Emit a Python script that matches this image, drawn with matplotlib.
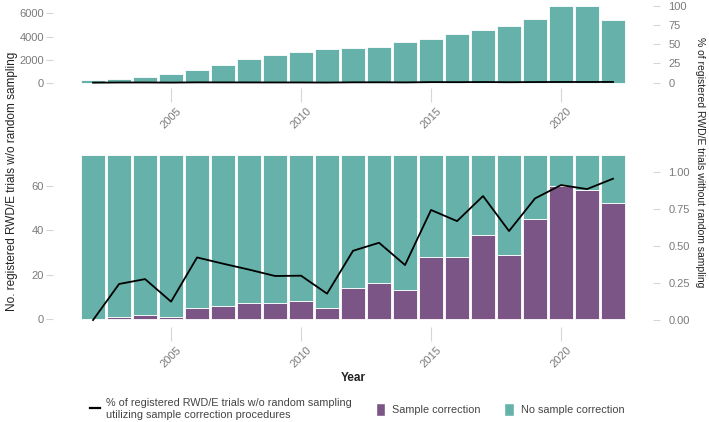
import matplotlib
matplotlib.use("Agg")
import matplotlib.pyplot as plt
from matplotlib.lines import Line2D
from matplotlib.patches import Patch

plt.rcParams["font.family"] = ["Liberation Sans", "DejaVu Sans"]

TEAL = "#66b2aa"
PURPLE = "#7b5586"
TICK_GRAY = "#d6d6d6"
LABEL_GRAY = "#7a7a7a"

years = list(range(2002, 2023))

# top panel: registered trials w/o random sampling (counts)
trials_no_random = [250, 400, 570, 830, 1170, 1600, 2090, 2400, 2710, 2910, 3000,
                    3090, 3540, 3770, 4230, 4570, 4890, 5510, 6660, 6630, 5460]

# bottom panel: stacked bars
sample_correction = [0, 1, 2, 1, 5, 6, 7, 7, 8, 5, 14, 16, 13, 28, 28, 38, 29, 45, 60, 58, 52]
no_sample_correction = [73.8, 72.8, 71.8, 72.8, 68.8, 67.8, 66.8, 66.8, 65.8, 68.8, 59.8,
                        57.8, 60.8, 45.8, 45.8, 35.8, 44.8, 28.8, 13.8, 15.8, 21.8]

# share of trials utilizing sample correction procedures
share_corrected = [0.0, 0.243, 0.276, 0.124, 0.422, 0.38, 0.34, 0.297, 0.299, 0.178, 0.467,
                   0.521, 0.371, 0.742, 0.667, 0.836, 0.60, 0.82, 0.91, 0.883, 0.953]

xticks = [2005, 2010, 2015, 2020]

fig = plt.figure(figsize=(7.09, 4.22), dpi=100)
ax_top = fig.add_axes([0.0748, 0.7915, 0.8463, 0.2038])
ax_bot = fig.add_axes([0.0748, 0.2251, 0.8463, 0.4242])


def style(ax, right=False):
    for s in ax.spines.values():
        s.set_visible(False)
    ax.tick_params(axis="y", length=5, width=0.8, color=TICK_GRAY,
                   labelcolor=LABEL_GRAY, labelsize=8, pad=6 if right else 1.5)
    ax.tick_params(axis="x", length=10, width=0.8, color=TICK_GRAY,
                   labelcolor=LABEL_GRAY, labelsize=8, pad=3)


# top panel
ax_top.bar(years, trials_no_random, width=0.9, color=TEAL, edgecolor="white", linewidth=0.6)
ax_top.set_xlim(2000.46, 2023.54)
ax_top.set_ylim(-403, 6969)
ax_top.set_yticks([0, 2000, 4000, 6000])
ax_top.set_xticks(xticks)
ax_top.set_xticklabels([str(y) for y in xticks], rotation=45, ha="center")
style(ax_top)
ax_top_r = ax_top.twinx()
ax_top_r.plot(years, share_corrected, color="black", linewidth=1.3)
ax_top_r.set_ylim(-6.9, 104.8)
ax_top_r.set_yticks([0, 25, 50, 75, 100])
style(ax_top_r, right=True)

# bottom panel
ax_bot.bar(years, sample_correction, width=0.9, color=PURPLE, edgecolor="white", linewidth=0.6)
ax_bot.bar(years, no_sample_correction, bottom=sample_correction, width=0.9, color=TEAL,
           edgecolor="white", linewidth=0.6)
ax_bot.set_xlim(2000.46, 2023.54)
ax_bot.set_ylim(-3.6, 76.95)
ax_bot.set_yticks([0, 20, 40, 60])
ax_bot.set_xticks(xticks)
ax_bot.set_xticklabels([str(y) for y in xticks], rotation=45, ha="center")
style(ax_bot)
ax_bot_r = ax_bot.twinx()
ax_bot_r.plot(years, share_corrected, color="black", linewidth=1.3)
ax_bot_r.set_ylim(-0.047, 1.16)
ax_bot_r.set_yticks([0, 0.25, 0.5, 0.75, 1.0])
ax_bot_r.set_yticklabels(["0.00", "0.25", "0.50", "0.75", "1.00"])
style(ax_bot_r, right=True)

fig.text(353 / 709, 1 - 378 / 422, "Year", ha="center", va="center",
         fontsize=8.5, fontweight="bold", color="#222222")
fig.text(12 / 709, 1 - 181 / 422, "No. registered RWD/E trials w/o random sampling",
         rotation=90, ha="center", va="center", fontsize=8.5, color="#222222")
fig.text(700 / 709, 1 - 162 / 422, "% of registered RWD/E trials without random sampling",
         rotation=-90, ha="center", va="center", fontsize=7.5, color="#222222")

handles = [Line2D([], [], color="black", linewidth=1.6),
           Patch(facecolor=PURPLE, edgecolor="white"),
           Patch(facecolor=TEAL, edgecolor="white")]
labels = ["% of registered RWD/E trials w/o random sampling\nutilizing sample correction procedures",
          "Sample correction", "No sample correction"]
fig.legend(handles, labels, loc="center", bbox_to_anchor=(357 / 709, 1 - 409 / 422), ncol=3,
           frameon=False, fontsize=7.8, handlelength=0.9, handleheight=1.4,
           handletextpad=0.6, columnspacing=2.2, labelcolor="#444444")

fig.savefig("out.png", dpi=100)
